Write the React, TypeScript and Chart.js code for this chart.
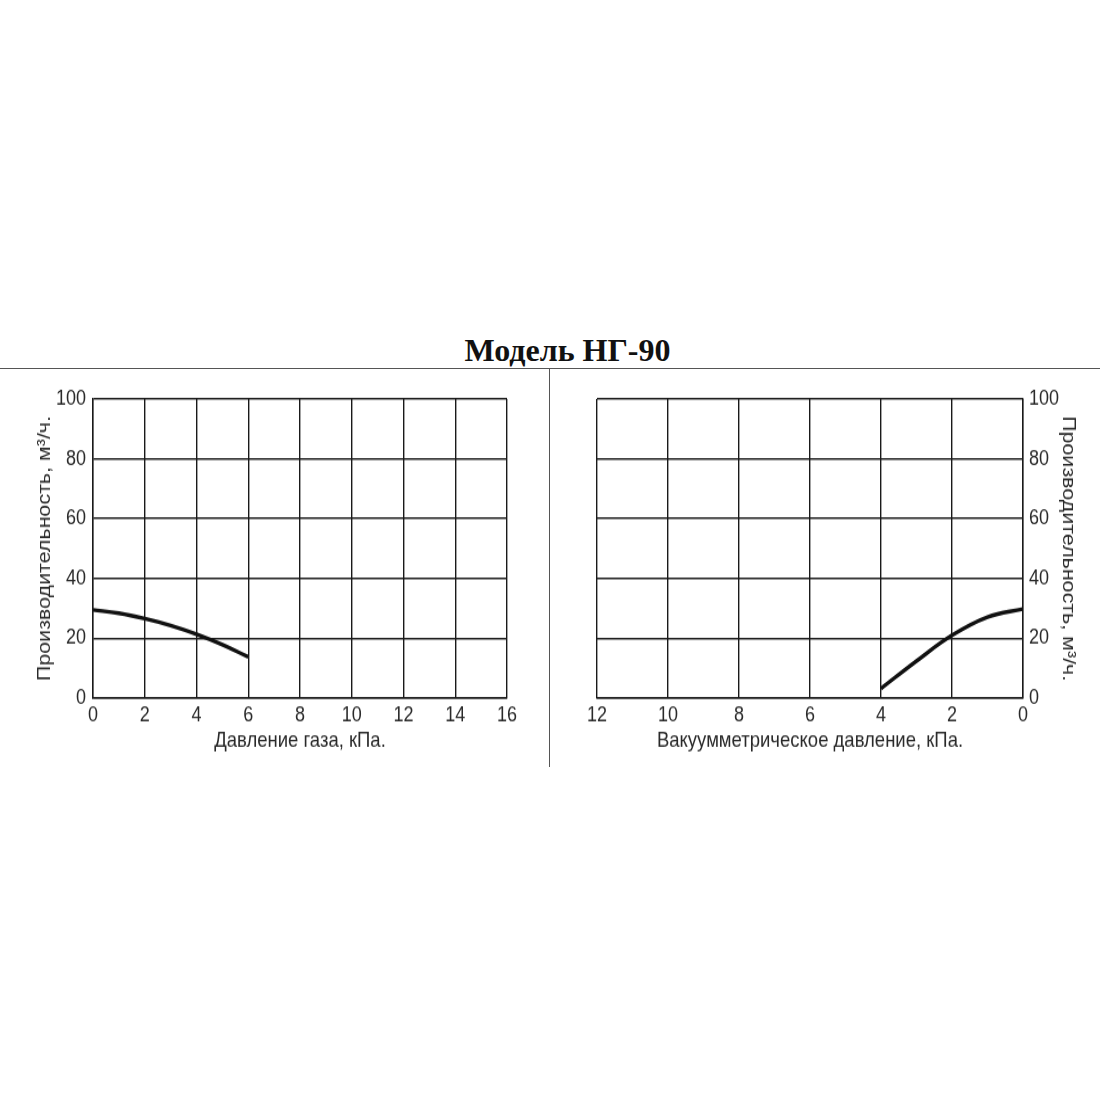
import React, { useRef, useEffect } from 'react';
import { Chart, registerables } from 'chart.js';

Chart.register(...registerables);

// Давление газа, кПа -> производительность, м³/ч
const gasPressure = [0, 1, 2, 3, 4, 5, 6];
const gasFlow = [29.5, 28.4, 26.6, 24.3, 21.4, 17.9, 13.8];

// Вакуумметрическое давление, кПа -> производительность, м³/ч
const vacPressure = [0, 1, 2, 3, 4];
const vacFlow = [29.8, 27.1, 21.0, 12.4, 3.2];

const gasTicks = [0, 2, 4, 6, 8, 10, 12, 14, 16];
const vacTicks = [0, 2, 4, 6, 8, 10, 12];
const flowTicks = [0, 20, 40, 60, 80, 100];

const FONT = "'Liberation Sans', Arial, sans-serif";
const GRID = '#1a1a1a';
const TEXT = '#2a2a2a';

// the source picture is slightly stretched vertically: draw at 345px, show at 400px
const DRAW_H = 345;
const SHOW_H = 400;

interface PanelProps {
  xs: number[];
  ys: number[];
  xTicks: number[];
  xTitle: string;
  side: 'left' | 'right';
}

const Panel: React.FC<PanelProps> = ({ xs, ys, xTicks, xTitle, side }) => {
  const chartRef = useRef<HTMLCanvasElement>(null);
  const chartInstance = useRef<Chart | null>(null);

  useEffect(() => {
    if (!chartRef.current) return;
    if (chartInstance.current) chartInstance.current.destroy();

    const isLeft = side === 'left';
    const points = xs.map((x, i) => ({ x, y: ys[i] }));

    chartInstance.current = new Chart(chartRef.current, {
      type: 'line',
      data: {
        datasets: [
          {
            data: points,
            borderColor: '#111',
            borderWidth: 3.4,
            pointRadius: 0,
            tension: 0.4,
            fill: false,
          },
        ],
      },
      options: {
        animation: false,
        responsive: false,
        maintainAspectRatio: false,
        devicePixelRatio: 1,
        layout: {
          padding: isLeft
            ? { left: 0, right: 38, top: 25, bottom: 14 }
            : { left: 44, right: 0, top: 25, bottom: 14 },
        },
        plugins: {
          legend: { display: false },
          tooltip: { enabled: false },
        },
        scales: {
          x: {
            type: 'linear',
            min: xTicks[0],
            max: xTicks[xTicks.length - 1],
            reverse: !isLeft,
            afterBuildTicks: (scale) => {
              scale.ticks = xTicks.map((v) => ({ value: v }));
            },
            afterFit: (scale) => {
              scale.height = 48;
            },
            grid: { color: GRID, lineWidth: 1.4, drawTicks: false },
            border: { display: true, color: GRID, width: 1.4 },
            ticks: {
              color: TEXT,
              padding: 4.5,
              maxRotation: 0,
              autoSkip: false,
              font: { family: FONT, size: 18 },
            },
            title: {
              display: true,
              text: xTitle,
              color: TEXT,
              padding: 0,
              font: { family: FONT, size: 18.5 },
            },
          },
          y: {
            position: isLeft ? 'left' : 'right',
            min: 0,
            max: 100,
            afterBuildTicks: (scale) => {
              scale.ticks = flowTicks.map((v) => ({ value: v }));
            },
            afterFit: (scale) => {
              scale.width = isLeft ? 93 : 77;
            },
            grid: { color: GRID, lineWidth: 1.4, drawTicks: false },
            border: { display: true, color: GRID, width: 1.4 },
            ticks: {
              color: TEXT,
              padding: isLeft ? 7 : 6,
              font: { family: FONT, size: 18 },
            },
            title: {
              display: true,
              text: 'Производительность, м³/ч.',
              color: TEXT,
              padding: isLeft ? { top: 34 } : { top: 21 },
              font: { family: FONT, size: 18.5 },
            },
          },
        },
      },
    });

    return () => {
      if (chartInstance.current) {
        chartInstance.current.destroy();
        chartInstance.current = null;
      }
    };
  }, [xs, ys, xTicks, xTitle, side]);

  const width = side === 'left' ? 545 : 547;
  const left = side === 'left' ? 0 : 553;

  return (
    <div style={{ position: 'absolute', left, top: 370, width, height: SHOW_H }}>
      <canvas
        ref={chartRef}
        width={width}
        height={DRAW_H}
        style={{ display: 'block', width: `${width}px`, height: `${SHOW_H}px` }}
      />
    </div>
  );
};

export default function App() {
  return (
    <div
      style={{
        position: 'absolute',
        left: 0,
        top: 0,
        width: 1100,
        height: 1100,
        background: '#fff',
        overflow: 'hidden',
      }}
    >
      <div
        style={{
          position: 'absolute',
          left: 0,
          top: 334,
          width: 1135,
          textAlign: 'center',
          fontFamily: "'Liberation Serif', 'Times New Roman', serif",
          fontWeight: 'bold',
          fontSize: 32,
          lineHeight: '32px',
          color: '#111',
        }}
      >
        Модель НГ-90
      </div>
      <div style={{ position: 'absolute', left: 0, top: 368, width: 1100, height: 1, background: '#555' }} />
      <div style={{ position: 'absolute', left: 549, top: 368, width: 1, height: 399, background: '#555' }} />
      <Panel xs={gasPressure} ys={gasFlow} xTicks={gasTicks} xTitle="Давление газа, кПа." side="left" />
      <Panel xs={vacPressure} ys={vacFlow} xTicks={vacTicks} xTitle="Вакуумметрическое давление, кПа." side="right" />
    </div>
  );
}
